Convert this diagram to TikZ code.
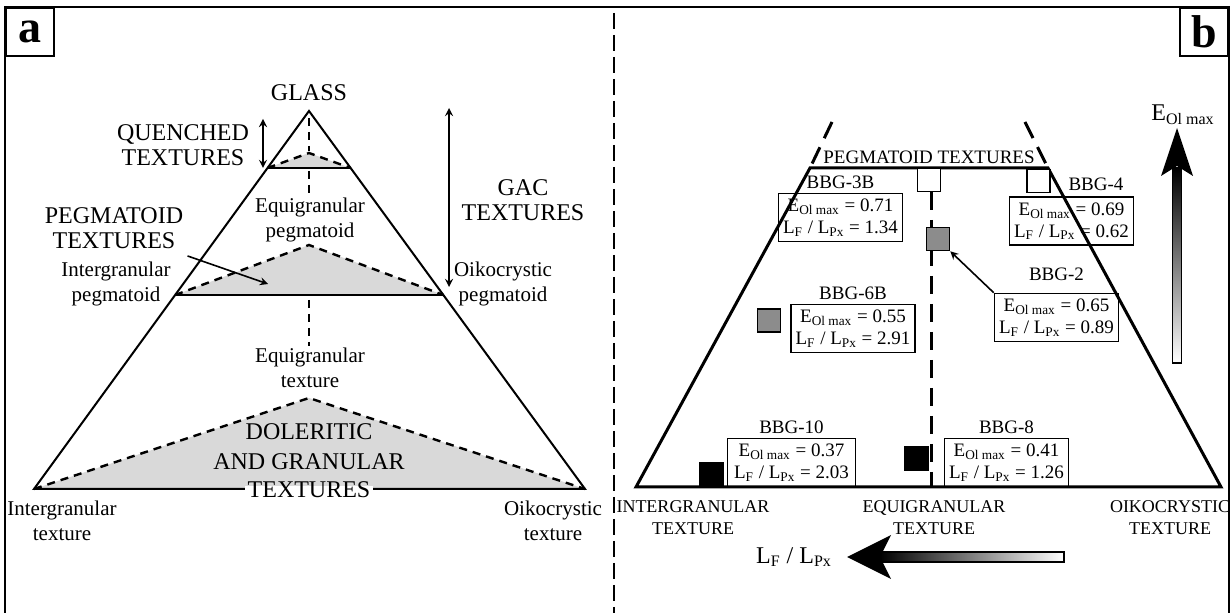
\documentclass[tikz,border=0pt]{standalone}
\usepackage{fontspec}
\setmainfont{Liberation Serif}
\usetikzlibrary{positioning}
\usetikzlibrary{arrows}
\usetikzlibrary{calc}
\newcommand{\Eol}{E\textsubscript{Ol max}}
\newcommand{\LFP}{L\textsubscript{F} / L\textsubscript{Px}}
\tikzset{
big/.style={font=\fontsize{12}{12.5}\selectfont, align=center, inner sep=0pt},
small/.style={font=\fontsize{10.5}{12.5}\selectfont, align=center, inner sep=0pt},
caps/.style={font=\fontsize{9}{11}\selectfont, align=center, inner sep=0pt},
tag/.style={font=\fontsize{9.5}{11}\selectfont, inner sep=0pt},
databox/.style={
draw,
line width=0.8pt,
minimum width=62pt,
minimum height=24pt,
inner sep=1pt,
align=center,
font=\fontsize{9.5}{11}\selectfont},
marker/.style={draw, line width=0.8pt, minimum size=11.5pt, inner sep=0pt},
panel/.style={draw, line width=1pt, minimum size=24pt, inner sep=0pt,
font=\fontsize{23}{23}\selectfont\bfseries},
zone/.style={fill=black!15, line width=1.2pt, dash pattern=on 4pt off 3pt},
axisdash/.style={line width=1.2pt, dash pattern=on 4pt off 3pt},
dim/.style={line width=0.8pt, stealth-stealth}}

\begin{document}
\begin{tikzpicture}[x=0.5pt, y=-0.5pt]
\useasboundingbox (0,0) rectangle (1232,613);
% frame and panel letters
\draw[line width=1pt] (5,640) -- (5,7) -- (1229,7) -- (1229,640);
\draw[line width=1pt, dash pattern=on 8pt off 3pt] (614,13) -- (614,613);
\node[panel, anchor=north west] (pa) at (5,7) {a};
\node[panel, anchor=north east] (pb) at (1229,7) {b};

% ---- panel a ----
\coordinate (apx) at (309,111);
\coordinate (bl) at (34,489);
\coordinate (br) at (585,489);
\coordinate (ql) at ($(apx)!0.1508!(bl)$);
\coordinate (qr) at ($(apx)!0.1508!(br)$);
\coordinate (pl) at ($(apx)!0.4868!(bl)$);
\coordinate (pr) at ($(apx)!0.4868!(br)$);
\draw[zone] (ql) -- (309,153) -- (qr);
\draw[zone] (pl) -- (309,245) -- (pr);
\draw[zone] (bl) -- (309,398) -- (br);
\draw[axisdash] (309,118) -- (309,151);
\draw[axisdash] (309,171) -- (309,198);
\draw[axisdash] (309,300) -- (309,346);
\draw[line width=1pt] (apx) -- (bl) -- (br) -- cycle;
\draw[line width=1pt] (ql) -- (qr);
\draw[line width=1pt] (pl) -- (pr);

\node[big] (glass) at (309,93) {GLASS};
\node[big] (quench) at (183,145) {QUENCHED\\TEXTURES};
\node[big] (pegtex) at (114,228) {PEGMATOID\\TEXTURES};
\node[big] (gac) at (523,200) {GAC\\TEXTURES};
\node[small] (eqpeg) at (310,220) {Equigranular\\pegmatoid};
\node[small] (inpeg) at (116,284) {Intergranular\\pegmatoid};
\node[small] (oipeg) at (503,284) {Oikocrystic\\pegmatoid};
\node[small] (eqtex) at (310,368) {Equigranular\\texture};
\node[big, font=\fontsize{12}{15}\selectfont] (dol) at (309,447) {DOLERITIC\\AND GRANULAR};
\node[fill=white, minimum width=64pt, minimum height=3pt, inner sep=0pt] (gap) at (309,489) {};
\node[big] (doltex) at (309,490) {TEXTURES};
\node[small] (intex) at (62,521) {Intergranular\\texture};
\node[small] (oitex) at (553,521) {Oikocrystic\\texture};

\coordinate (qtop) at (263,119);
\coordinate (qbot) at (263,168);
\coordinate (gtop) at (449,108);
\coordinate (gbot) at (449,287);
\coordinate (pegin) at (268,284);
\draw[dim] (qtop) -- (qbot);
\draw[dim] (gtop) -- (gbot);
\draw[line width=0.8pt, -stealth] (pegtex.south east) ++(4,7) -- (pegin);

% ---- panel b ----
\coordinate (tl) at (810,168);
\coordinate (tr) at (1048,168);
\coordinate (bl2) at (636,487);
\coordinate (br2) at (1221,487);
\coordinate (tle) at (832,122);
\coordinate (tre) at (1025,122);
\draw[line width=1.5pt, dash pattern=on 9pt off 5pt] (tle) -- (tl);
\draw[line width=1.5pt, dash pattern=on 9pt off 5pt] (tre) -- (tr);
\draw[line width=1.5pt, dash pattern=on 9pt off 5pt] (931,192) -- (931,487);
\draw[line width=1.5pt] (tl) -- (tr) -- (br2) -- (bl2) -- cycle;
\node[tag] (pegb) at (929,157) {PEGMATOID TEXTURES};

% samples
\node[marker, fill=white] (m3b) at (929,180) {};
\node[marker, fill=white] (m4) at (1038.5,181) {};
\node[marker, fill=black!45] (m2) at (938,239) {};
\node[marker, fill=black!45] (m6b) at (769,320.5) {};
\node[marker, fill=black] (m10) at (711.5,474.5) {};
\node[marker, fill=black] (m8) at (916.5,458.5) {};

\node[databox] (b3b) at (840.5,217.5) {\Eol{} = 0.71\\\LFP{} = 1.34};
\node[databox] (b4) at (1071.5,221) {\Eol{} = 0.69\\\LFP{} = 0.62};
\node[databox] (b2) at (1056.5,317.5) {\Eol{} = 0.65\\\LFP{} = 0.89};
\node[databox] (b6b) at (853,328.5) {\Eol{} = 0.55\\\LFP{} = 2.91};
\node[databox, minimum width=64pt] (b10) at (791.5,462.5) {\Eol{} = 0.37\\\LFP{} = 2.03};
\node[databox] (b8) at (1006.5,462.5) {\Eol{} = 0.41\\\LFP{} = 1.26};
\node[tag, above=2pt of b3b] (t3b) {BBG-3B};
\node[tag] (t4) at (1096,184) {BBG-4};
\node[tag, above=6pt of b2] (t2) {BBG-2};
\node[tag, above=2pt of b6b] (t6b) {BBG-6B};
\node[tag, above=2pt of b10] (t10) {BBG-10};
\node[tag, above=2pt of b8] (t8) {BBG-8};
\draw[line width=0.8pt, -stealth] (b2.north west) -- (m2.south east);

\node[caps] (inb) at (693,518) {INTERGRANULAR\\TEXTURE};
\node[caps] (eqb) at (934,518) {EQUIGRANULAR\\TEXTURE};
\node[caps] (oib) at (1170,518) {OIKOCRYSTIC\\TEXTURE};

% gradient axes
\node[big] (lfp) at (794,557) {\LFP};
\draw[line width=0.6pt, left color=black, right color=white] (880,552) rectangle (1064,562);
\fill (847,557) -- (891,535) -- (880,557) -- (891,579) -- cycle;
\node[big] (eol) at (1183,115) {\Eol};
\draw[line width=0.6pt, top color=black, bottom color=white] (1172.5,168) rectangle (1181.5,363);
\fill (1177,128) -- (1161,176) -- (1177,166) -- (1193,176) -- cycle;
\end{tikzpicture}
\end{document}
